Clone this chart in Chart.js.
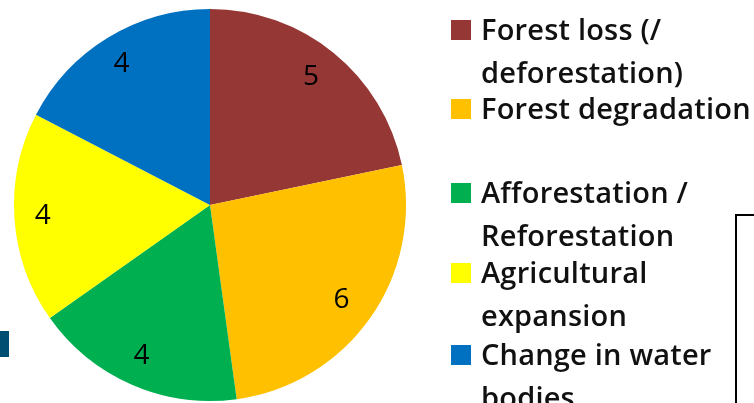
<!DOCTYPE html>
<html>
<head>
<meta charset="utf-8">
<script src="https://cdn.jsdelivr.net/npm/chart.js@4"></script>
<style>
  html,body{margin:0;padding:0;background:#fff;overflow:hidden;}
  #wrap{position:relative;width:754px;height:403px;overflow:hidden;}
  #c{position:absolute;left:0;top:0;}
  .item{position:absolute;left:451px;font-family:"Open Sans",sans-serif;font-size:29px;font-weight:600;color:#111;white-space:nowrap;font-variant-ligatures:none;letter-spacing:0.2px;}
  .sw{position:absolute;left:0;width:20px;height:20px;}
  .ln{position:absolute;left:30px;}
  #box{position:absolute;left:735px;top:214px;width:40px;height:300px;border-left:2px solid #000;border-top:2px solid #000;}
  #tab{position:absolute;left:0;top:331px;width:9px;height:26px;background:#004E72;}
</style>
</head>
<body>
<div id="wrap">
  <canvas id="c" width="754" height="403"></canvas>
  <div id="tab"></div>
  <div id="box"></div>
  <div id="legend"></div>
</div>
<script>
const categories = [
  "Forest loss (/\ndeforestation)",
  "Forest degradation",
  "Afforestation /\nReforestation",
  "Agricultural\nexpansion",
  "Change in water\nbodies"
];
const values = [5, 6, 4, 4, 4];
const colors = ["#953735", "#FFC000", "#00B050", "#FFFF00", "#0070C0"];

// legend layout: baseline of first line of each item, and line spacing
const legendBaselines = [40, 119, 203, 283, 365];
const lineStep = 43;

const legend = document.getElementById('legend');
categories.forEach((cat, i) => {
  const item = document.createElement('div');
  item.className = 'item';
  item.style.top = '0px';
  const sw = document.createElement('div');
  sw.className = 'sw';
  sw.style.background = colors[i];
  sw.style.top = (legendBaselines[i] - 20) + 'px';
  item.appendChild(sw);
  cat.split('\n').forEach((t, j) => {
    const ln = document.createElement('div');
    ln.className = 'ln';
    ln.textContent = t;
    ln.style.top = (legendBaselines[i] + j * lineStep - 30) + 'px';
    ln.style.lineHeight = '38px';
    item.appendChild(ln);
  });
  legend.appendChild(item);
});

const labelPlugin = {
  id: 'sliceLabels',
  afterDatasetsDraw(chart) {
    const ctx = chart.ctx;
    const meta = chart.getDatasetMeta(0);
    ctx.save();
    ctx.font = '28px "Open Sans", sans-serif';
    ctx.fillStyle = '#000';
    ctx.textAlign = 'center';
    ctx.textBaseline = 'middle';
    meta.data.forEach((arc, i) => {
      const p = arc.getProps(['x', 'y', 'startAngle', 'endAngle', 'outerRadius'], true);
      const mid = (p.startAngle + p.endAngle) / 2;
      const r = p.outerRadius * 0.84;
      ctx.fillText(String(values[i]), p.x + Math.cos(mid) * r - 3, p.y + Math.sin(mid) * r);
    });
    ctx.restore();
  }
};

new Chart(document.getElementById('c'), {
  type: 'pie',
  data: {
    labels: categories,
    datasets: [{
      data: values,
      backgroundColor: colors,
      borderWidth: 0
    }]
  },
  options: {
    responsive: false,
    animation: false,
    layout: { padding: { left: 14, right: 348, top: 9, bottom: 2 } },
    plugins: { legend: { display: false }, tooltip: { enabled: false } }
  },
  plugins: [labelPlugin]
});
</script>
</body>
</html>
